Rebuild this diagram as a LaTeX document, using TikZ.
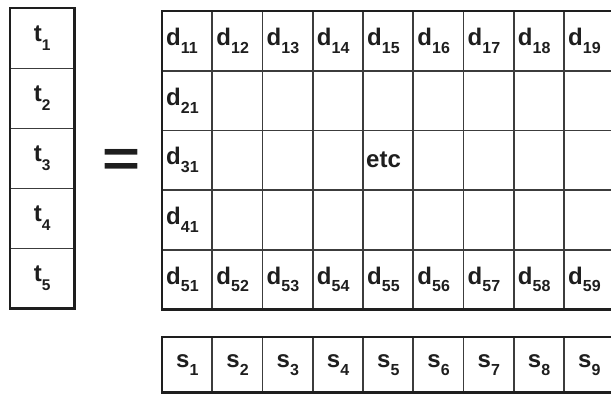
\documentclass[tikz,border=0pt]{standalone}
\usepackage{fontspec}
\setmainfont{Liberation Sans}
\definecolor{ink}{HTML}{1E1E1E}
\definecolor{gridc}{HTML}{3C3C3C}
\newcommand\lsub[1]{\raisebox{-0.33em}{\fontsize{16}{16}\selectfont #1}}
\newcommand\tsub[1]{\raisebox{-0.36em}{\fontsize{15.5}{15.5}\selectfont #1}}
\newcommand\dd[1]{d\lsub{#1}}
\begin{document}
\begin{tikzpicture}[x=1pt,y=-1pt,
  every node/.style={font=\fontsize{24}{24}\selectfont\bfseries, text=ink},
  tcell/.style={minimum width=64pt, minimum height=60pt, inner sep=0pt, anchor=north west},
  dcell/.style={minimum height=59.6pt, text width=40.25pt, inner xsep=5pt, inner ysep=0pt, align=left, anchor=north west},
  scell/.style={minimum height=55pt, minimum width=50.25pt, inner sep=0pt, anchor=north west},
  inner/.style={draw=gridc, line width=1.6pt},
  outer/.style={draw=ink, line width=2.6pt, line join=miter}]
\fill[white] (0,0) rectangle (611,397);
\useasboundingbox (0,0) rectangle (611,397);
\path[clip] (0,0) rectangle (611,397);
% t column
\foreach \i in {1,...,5}
  \node[tcell] (t\i) at (10,{8+60*(\i-1)}) {t\tsub{\i}};
\foreach \i in {1,...,4}
  \draw[inner] (t\i.south west) -- (t\i.south east);
\draw[outer] (t1.north west) rectangle (t5.south east);
% equals
\node[font=\fontsize{52}{52}\selectfont\bfseries, xscale=1.25, inner sep=0pt] (eq) at (121.5,163) {=};
% matrix
\foreach \r in {1,...,5}
  \foreach \c in {1,...,9}
    \node[dcell] (m-\r-\c) at ({162+50.25*(\c-1)},{11+59.6*(\r-1)}) {};
\foreach \c in {1,...,9}
  \node[anchor=west, inner xsep=4pt] (l-1-\c) at (m-1-\c.west) {\dd{1\c}};
\foreach \c in {1,...,9}
  \node[anchor=west, inner xsep=4pt] (l-5-\c) at (m-5-\c.west) {\dd{5\c}};
\foreach \r in {2,3,4}
  \node[anchor=west, inner xsep=4pt] (l-\r-1) at (m-\r-1.west) {\dd{\r1}};
\node[anchor=west, inner xsep=3pt] (etc) at (m-3-5.west) {etc};
\foreach \c in {2,...,9}
  \draw[inner] (m-1-\c.north west) -- (m-5-\c.south west);
\foreach \r in {1,...,4}
  \draw[inner] (m-\r-1.south west) -- (m-\r-9.south east);
\draw[outer] (m-1-9.north east) -- (m-1-1.north west) -- (m-5-1.south west) -- (m-5-9.south east);
% s row
\foreach \c in {1,...,9}
  \node[scell] (s\c) at ({162+50.25*(\c-1)},337) {s\lsub{\c}};
\foreach \c in {2,...,9}
  \draw[inner] (s\c.north west) -- (s\c.south west);
\draw[outer] (s9.north east) -- (s1.north west) -- (s1.south west) -- (s9.south east);
\end{tikzpicture}
\end{document}
